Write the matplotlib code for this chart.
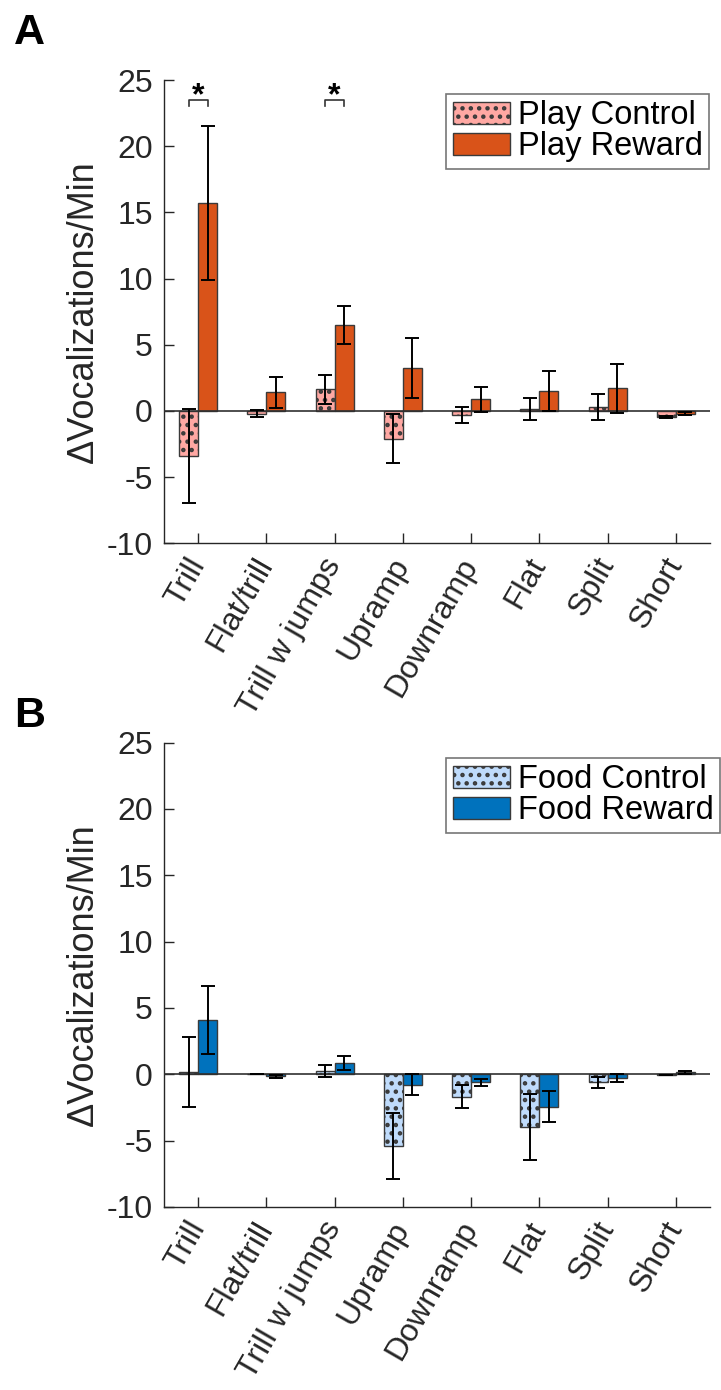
import matplotlib
matplotlib.use("Agg")
import matplotlib.pyplot as plt
import numpy as np

plt.rcParams['font.family'] = ['Liberation Sans', 'DejaVu Sans']
plt.rcParams['hatch.linewidth'] = 2.0
plt.rcParams['hatch.color'] = '#000000'

categories = ['Trill', 'Flat/trill', 'Trill w jumps', 'Upramp', 'Downramp', 'Flat', 'Split', 'Short']

play_control = [-3.4, -0.2, 1.65, -2.1, -0.3, 0.15, 0.3, -0.45]
play_control_err = [3.55, 0.25, 1.1, 1.85, 0.6, 0.85, 0.95, 0.1]
play_reward = [15.7, 1.4, 6.5, 3.25, 0.9, 1.5, 1.7, -0.2]
play_reward_err = [5.8, 1.2, 1.45, 2.25, 0.95, 1.5, 1.85, 0.1]

food_control = [0.15, 0.02, 0.25, -5.4, -1.68, -3.95, -0.6, -0.02]
food_control_err = [2.65, 0.0, 0.45, 2.5, 0.88, 2.5, 0.4, 0.0]
food_reward = [4.1, -0.15, 0.85, -0.78, -0.6, -2.43, -0.27, 0.15]
food_reward_err = [2.55, 0.12, 0.5, 0.8, 0.25, 1.2, 0.28, 0.12]

sig_groups_play = [0, 2]
yticks = [-10, -5, 0, 5, 10, 15, 20, 25]

fig = plt.figure(figsize=(7.21, 13.9), dpi=100)
L, R = 164 / 721, 710 / 721
axA = fig.add_axes([L, 1 - 543.4 / 1390, R - L, (543.4 - 80) / 1390])
axB = fig.add_axes([L, 1 - 1207 / 1390, R - L, (1207 - 742.6) / 1390])

TXT = '#262626'
W = 0.28
OFF = 0.14


def panel(ax, ctrl, ctrl_err, rew, rew_err, c_ctrl, c_rew, labels, leg_y):
    x = np.arange(1, len(categories) + 1)
    ax.bar(x - OFF, ctrl, W, color=c_ctrl, edgecolor='#3a3a3a', linewidth=1.0,
           hatch='..', label=labels[0], zorder=2)
    ax.bar(x + OFF, rew, W, color=c_rew, edgecolor='#3a3a3a', linewidth=1.0,
           label=labels[1], zorder=2)
    ax.errorbar(x - OFF, ctrl, yerr=ctrl_err, fmt='none', ecolor='black', elinewidth=1.4,
                capsize=5, capthick=1.4, zorder=4)
    ax.errorbar(x + OFF, rew, yerr=rew_err, fmt='none', ecolor='black', elinewidth=1.4,
                capsize=5, capthick=1.4, zorder=4)
    ax.axhline(0, color='#303030', lw=1.2, zorder=3)
    ax.set_xlim(0.5, 8.5)
    ax.set_ylim(-10, 25)
    ax.set_yticks(yticks)
    ax.set_yticklabels([str(v) for v in yticks])
    ax.set_xticks(x)
    ax.set_xticklabels(categories, rotation=60, ha='right', va='center',
                       rotation_mode='anchor')
    for sp in ['top', 'right']:
        ax.spines[sp].set_visible(False)
    for sp in ['left', 'bottom']:
        ax.spines[sp].set_color(TXT)
        ax.spines[sp].set_linewidth(1.0)
    ax.tick_params(axis='both', direction='in', length=7, width=1.0, colors=TXT,
                   labelsize=23, labelcolor=TXT)
    ax.tick_params(axis='y', pad=8)
    ax.tick_params(axis='x', pad=12)
    ax.set_ylabel('\u0394Vocalizations/Min', fontsize=26, color=TXT, labelpad=4)
    leg = ax.legend(loc='upper left', bbox_to_anchor=(0.5165, leg_y), fontsize=23.5,
                    frameon=True, fancybox=False, borderaxespad=0, handlelength=1.75,
                    handleheight=0.7, handletextpad=0.25, borderpad=0.2,
                    labelspacing=0.0)
    leg.get_frame().set_edgecolor('#555555')
    leg.get_frame().set_linewidth(1.2)
    return x


x = panel(axA, play_control, play_control_err, play_reward, play_reward_err,
          '#FFA8A3', '#D95319', ['Play Control', 'Play Reward'], 0.970)
for g in sig_groups_play:
    xc = x[g]
    axA.plot([xc - OFF, xc - OFF, xc + OFF, xc + OFF], [23.0, 23.5, 23.5, 23.0],
             color='#333333', lw=1.2, clip_on=False)
    axA.text(xc, 23.15, '*', ha='center', va='baseline', fontsize=23, fontweight='bold')

panel(axB, food_control, food_control_err, food_reward, food_reward_err,
      '#BFDBFB', '#0072BD', ['Food Control', 'Food Reward'], 0.967)

fig.text(14 / 721, 1 - 13 / 1390, 'A', fontsize=31, fontweight='bold', ha='left', va='top')
fig.text(14 / 721, 1 - 696 / 1390, 'B', fontsize=31, fontweight='bold', ha='left', va='top')

fig.savefig('out.png', dpi=100)
